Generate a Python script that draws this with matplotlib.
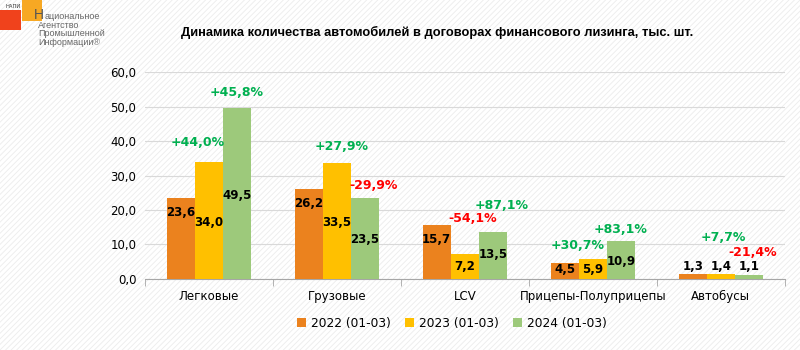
import matplotlib
matplotlib.use("Agg")
import matplotlib.pyplot as plt
from matplotlib.patches import Rectangle
import numpy as np

categories = ["Легковые", "Грузовые", "LCV", "Прицепы-Полуприцепы", "Автобусы"]
series_names = ["2022 (01-03)", "2023 (01-03)", "2024 (01-03)"]
v2022 = [23.6, 26.2, 15.7, 4.5, 1.3]
v2023 = [34.0, 33.5, 7.2, 5.9, 1.4]
v2024 = [49.5, 23.5, 13.5, 10.9, 1.1]
# change labels (%): 2023 vs 2022 and 2024 vs 2023
pct_2023 = [44.0, 27.9, -54.1, 30.7, 7.7]
pct_2024 = [45.8, -29.9, 87.1, 83.1, -21.4]
yticks = [0, 10, 20, 30, 40, 50, 60]

# label placement (data y coords)
lab_y = [[19.4, 22.0, 11.3, 2.6, 3.5],
         [16.5, 16.5, 3.5, 2.6, 3.5],
         [24.1, 11.3, 7.2, 5.2, 3.5]]
pct23_pos = [(-0.09, 39.7), (0.04, 38.3), (0.06, 17.4), (-0.12, 9.6), (0.02, 11.9)]
pct24_pos = [(0.22, 54.2), (0.29, 27.2), (0.29, 21.4), (0.22, 14.2), (0.25, 7.8)]

colors = ["#EB821E", "#FFC000", "#9DC97B"]
GREEN = "#00B050"
RED = "#FF0000"

plt.rcParams['font.family'] = ['DejaVu Sans']
fig = plt.figure(figsize=(8, 3.5), dpi=100)
fig.patch.set_facecolor("white")
plt.rcParams['hatch.linewidth'] = 0.6
plt.rcParams['hatch.color'] = '#ECECEC'
bg = Rectangle((0, 0), 1, 1, transform=fig.transFigure, facecolor='white',
               hatch='//////', edgecolor='#ECECEC', linewidth=0, zorder=-10)
fig.patches.append(bg)

ax = fig.add_axes([0.181, 0.203, 0.8, 0.591])
ax.set_facecolor('none')

x = np.arange(len(categories))
w = 0.22
vals = [v2022, v2023, v2024]
for i, (v, c, name) in enumerate(zip(vals, colors, series_names)):
    ax.bar(x + (i - 1) * w, v, width=w, color=c, label=name, zorder=3)
    for j, val in enumerate(v):
        ax.text(x[j] + (i - 1) * w, lab_y[i][j], f"{val:.1f}".replace('.', ','),
                ha='center', va='center', fontsize=8.5, fontweight='bold',
                color='black', zorder=5)

def fmt_pct(p):
    s = f"{p:+.1f}%".replace('.', ',')
    return s

for j in range(len(categories)):
    for p, pos in ((pct_2023[j], pct23_pos[j]), (pct_2024[j], pct24_pos[j])):
        ax.text(x[j] + pos[0], pos[1], fmt_pct(p), ha='center', va='center',
                fontsize=9, fontweight='bold', color=GREEN if p > 0 else RED, zorder=5)

ax.set_xlim(-0.5, len(categories) - 0.5)
ax.set_ylim(0, 60)
ax.set_yticks(yticks)
ax.set_yticklabels([f"{t:.1f}".replace('.', ',') for t in yticks], fontsize=8.5)
ax.yaxis.grid(True, color='#D9D9D9', linewidth=0.8, zorder=0)
ax.set_axisbelow(True)
for s in ['left', 'right', 'top']:
    ax.spines[s].set_visible(False)
ax.spines['bottom'].set_color('#A6A6A6')
ax.tick_params(axis='y', length=0, pad=6)
ax.set_xticks(x)
ax.set_xticklabels(categories, fontsize=8.5)
ax.tick_params(axis='x', which='major', length=0, pad=8)
ax.set_xticks(np.arange(-0.5, len(categories) + 0.5, 1), minor=True)
ax.tick_params(axis='x', which='minor', length=5, color='#A6A6A6')

leg = ax.legend(loc='upper center', bbox_to_anchor=(0.48, -0.13), ncol=3, frameon=False,
                fontsize=8.8, handlelength=0.7, handleheight=0.7, columnspacing=1.2,
                handletextpad=0.4)

fig.text(0.546, 0.908, "Динамика количества автомобилей в договорах финансового лизинга, тыс. шт.",
         ha='center', va='center', fontsize=9.3, fontweight='bold',
         family=['Liberation Sans'])

# logo
fig.patches.append(Rectangle((0, 1 - 30 / 350), 21 / 800, 20 / 350, transform=fig.transFigure,
                             facecolor='#F0421C', edgecolor='none', zorder=1))
fig.patches.append(Rectangle((22 / 800, 1 - 21 / 350), 20 / 800, 21 / 350, transform=fig.transFigure,
                             facecolor='#F7A823', edgecolor='none', zorder=1))
fig.text(5 / 800, 1 - 6 / 350, "НАПИ", fontsize=3.8, color='#333333', va='center', ha='left', zorder=3)
fig.text(34 / 800, 1 - 19 / 350, "Н", fontsize=10, color='#555555', va='baseline', ha='left', zorder=3,
         family=['Liberation Sans Narrow', 'Liberation Sans'])
fig.text(45 / 800, 1 - 19 / 350, "ациональное", fontsize=6.5, color='#666666', va='baseline', ha='left',
         family=['Liberation Sans Narrow', 'Liberation Sans'], zorder=3)
for k, line in enumerate(["Агентство", "Промышленной", "Информации®"]):
    fig.text(38 / 800, 1 - (28 + 8.3 * k) / 350, line, fontsize=6.5, color='#666666', va='baseline',
             ha='left', family=['Liberation Sans Narrow', 'Liberation Sans'], zorder=3)

fig.savefig("out.png", dpi=100)
